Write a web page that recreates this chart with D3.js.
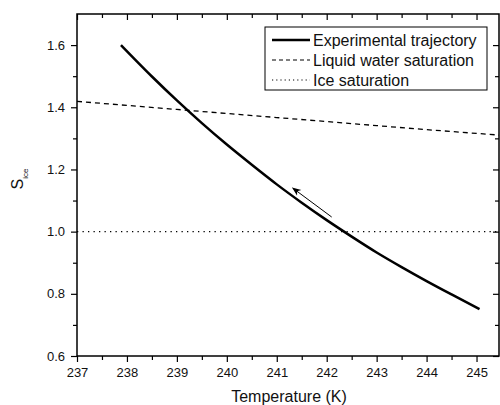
<!DOCTYPE html>
<html><head><meta charset="utf-8">
<script src="https://cdn.jsdelivr.net/npm/d3@7"></script>
<style>body{margin:0;background:#fff}svg{display:block;font-family:"Liberation Sans",Arial,sans-serif}</style>
</head><body>
<svg id="c" width="500" height="405"></svg>
<script>
// Data
const trajT = [237.88,238.5,239.0,239.5,240.0,240.5,241.0,241.5,242.0,242.5,243.0,243.5,244.0,244.5,245.06];
const trajS = [1.600,1.499,1.422,1.349,1.280,1.215,1.152,1.093,1.037,0.984,0.933,0.886,0.841,0.798,0.751];
const liqT = [237,238,239,240,241,242,243,244,245,245.5];
const liqS = [1.419,1.406,1.393,1.380,1.367,1.354,1.341,1.328,1.316,1.310];
const iceT = [237,245.5];
const iceS = [1.0,1.0];
const xTicks = [237,238,239,240,241,242,243,244,245];
const yTicks = [0.6,0.8,1.0,1.2,1.4,1.6];
const arrowFrom = [242.1,1.047], arrowTo = [241.32,1.14];
const legendLabels = ["Experimental trajectory","Liquid water saturation","Ice saturation"];

const L=77,R=499,T=14,B=356;
const svg=d3.select("#c");
const x=d3.scaleLinear().domain([237,245.45]).range([L,R]);
const y=d3.scaleLinear().domain([0.6,1.7]).range([B,T]);
const xMinor=d3.range(237,245.5,0.5).filter(v=>!xTicks.includes(v));
const yMinor=d3.range(0.6,1.7,0.1).map(v=>+v.toFixed(1)).filter(v=>!yTicks.some(t=>Math.abs(t-v)<1e-9));

svg.append("clipPath").attr("id","pc").append("rect").attr("x",L).attr("y",T).attr("width",R-L).attr("height",B-T);
const g=svg.append("g").attr("clip-path","url(#pc)");
const line=d3.line().x(d=>x(d[0])).y(d=>y(d[1]));
g.append("path").datum(liqT.map((t,i)=>[t,liqS[i]])).attr("d",line).attr("fill","none").attr("stroke","#000").attr("stroke-width",1.3).attr("stroke-dasharray","5,4");
g.append("path").datum(iceT.map((t,i)=>[t,iceS[i]])).attr("d",line).attr("fill","none").attr("stroke","#000").attr("stroke-width",1.2).attr("stroke-dasharray","1.3,4.2");
g.append("path").datum(trajT.map((t,i)=>[t,trajS[i]])).attr("d",d3.line().curve(d3.curveMonotoneX).x(d=>x(d[0])).y(d=>y(d[1]))).attr("fill","none").attr("stroke","#000").attr("stroke-width",2.5);

// arrow
svg.append("defs").append("marker").attr("id","ah").attr("viewBox","0 0 10 10").attr("refX",9).attr("refY",5)
  .attr("markerWidth",9).attr("markerHeight",9).attr("markerUnits","userSpaceOnUse").attr("orient","auto")
  .append("path").attr("d","M0,1 L10,5 L0,9 L3,5 Z").attr("fill","#000");
svg.append("line").attr("x1",x(arrowFrom[0])).attr("y1",y(arrowFrom[1])).attr("x2",x(arrowTo[0])).attr("y2",y(arrowTo[1]))
  .attr("stroke","#000").attr("stroke-width",1).attr("marker-end","url(#ah)");

// axes
svg.append("rect").attr("x",L).attr("y",T).attr("width",R-L).attr("height",B-T).attr("fill","none").attr("stroke","#000").attr("stroke-width",1.5);
svg.append("g").attr("transform",`translate(0,${B})`).call(d3.axisBottom(x).tickValues(xTicks).tickSize(6).tickPadding(6).tickFormat(d3.format("d")));
svg.append("g").attr("transform",`translate(0,${B})`).call(d3.axisBottom(x).tickValues(xMinor).tickSize(4).tickFormat(""));
svg.append("g").attr("transform",`translate(0,${T})`).call(d3.axisBottom(x).tickValues(xTicks).tickSize(6).tickFormat(""));
svg.append("g").attr("transform",`translate(0,${T})`).call(d3.axisBottom(x).tickValues(xMinor).tickSize(4).tickFormat(""));
svg.append("g").attr("transform",`translate(${L},0)`).call(d3.axisLeft(y).tickValues(yTicks).tickSize(6).tickPadding(6).tickFormat(d3.format(".1f")));
svg.append("g").attr("transform",`translate(${L},0)`).call(d3.axisLeft(y).tickValues(yMinor).tickSize(4).tickFormat(""));
svg.append("g").attr("transform",`translate(${R},0)`).call(d3.axisLeft(y).tickValues(yTicks).tickSize(6).tickFormat(""));
svg.append("g").attr("transform",`translate(${R},0)`).call(d3.axisLeft(y).tickValues(yMinor).tickSize(4).tickFormat(""));
svg.selectAll(".domain").remove();
svg.selectAll(".tick line").attr("stroke","#000").attr("stroke-width",1.2);
svg.selectAll(".tick text").attr("font-size",13).attr("fill","#111").attr("font-family","'Liberation Sans',Arial,sans-serif");

// titles
svg.append("text").attr("x",(L+R)/2+1).attr("y",402).attr("text-anchor","middle").attr("font-size",16).attr("fill","#111").text("Temperature (K)");
const yl=svg.append("text").attr("transform","translate(23,179) rotate(-90)").attr("text-anchor","middle").attr("font-size",16).attr("fill","#111");
yl.append("tspan").text("S");
yl.append("tspan").attr("font-size",8).attr("dy",5).text("ice");

// legend
const lg=svg.append("g");
lg.append("rect").attr("x",265).attr("y",27).attr("width",222).attr("height",63).attr("fill","#fff").attr("stroke","#000").attr("stroke-width",1);
const styles=[{w:2.5,d:null},{w:1.2,d:"4,3"},{w:1.1,d:"1.2,3"}];
legendLabels.forEach((lab,i)=>{
  const yy=40+i*20;
  const ln=lg.append("line").attr("x1",272).attr("x2",310).attr("y1",yy).attr("y2",yy).attr("stroke","#000").attr("stroke-width",styles[i].w);
  if(styles[i].d) ln.attr("stroke-dasharray",styles[i].d);
  lg.append("text").attr("x",313).attr("y",yy).attr("dy","0.36em").attr("font-size",16).attr("fill","#111").text(lab);
});
</script>
</body></html>
